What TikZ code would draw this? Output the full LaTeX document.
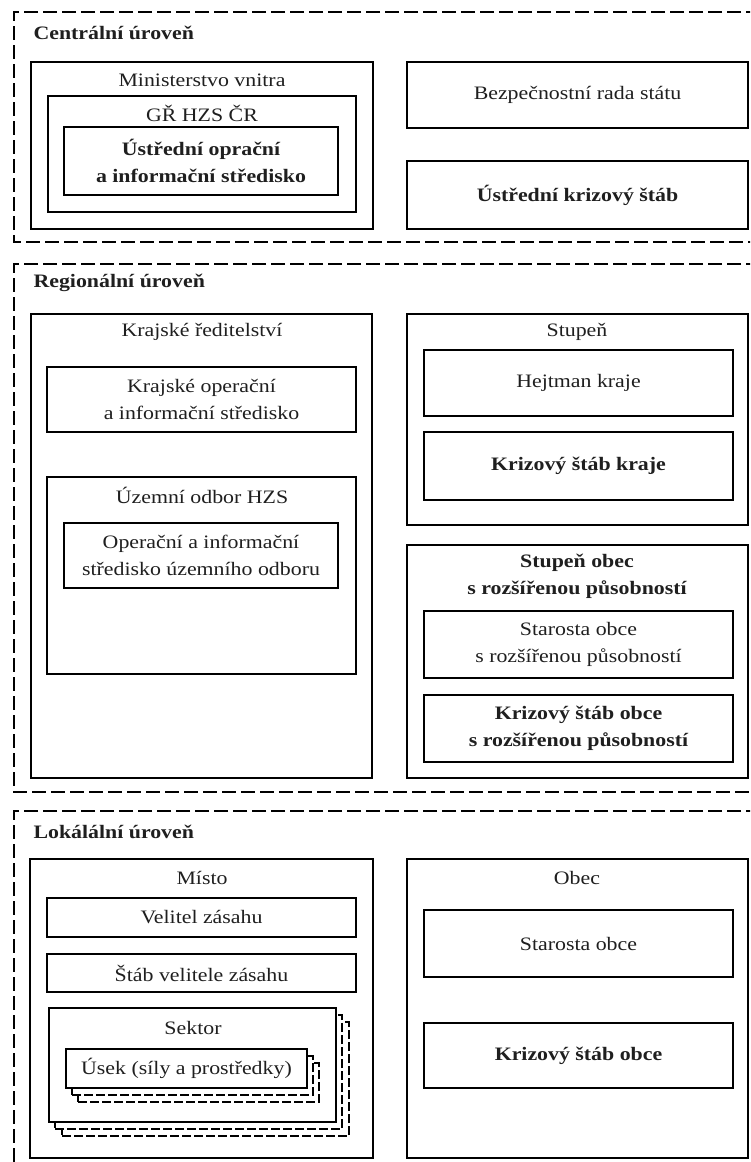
\documentclass[tikz,border=0pt]{standalone}
\usepackage{fontspec}
\setmainfont{Liberation Serif}[FakeStretch=1.15]
\usetikzlibrary{fit}
\begin{document}
\begin{tikzpicture}[x=1pt,y=-1pt,
  every node/.style={font=\fontsize{19}{27}\selectfont, text=black!88},
  box/.style={draw, line width=1.2pt, fill=white, inner sep=0pt},
  copybox/.style={draw, line width=1.2pt, fill=white, inner sep=0pt, dash pattern=on 9pt off 3pt},
  zone/.style={draw, line width=1.3pt, dash pattern=on 14pt off 5pt},
  lvl/.style={anchor=west, font=\fontsize{19}{27}\selectfont\bfseries},
  bt/.style={font=\fontsize{19}{27}\selectfont\bfseries},
  ttl/.style={anchor=center, align=center}
]
\useasboundingbox (0,0) rectangle (750,1162);
\fill[white] (0,0) rectangle (750,1162);
\clip (0,0) rectangle (750,1162);

% ---------------- Central level
\draw[zone] (760,12) -- (14,12) -- (14,242) -- (760,242);
\node[lvl] (lc) at (30,33) {Centrální úroveň};
\node[box, fit={(31,62) (373,229)}] (mv) {};
\node[ttl] (mvt) at (202,80) {Ministerstvo vnitra};
\node[box, fit={(48,96) (356,212)}] (gr) {};
\node[ttl] (grt) at (202,113) {GŘ HZS ČR};
\node[box, fit={(64,127) (338,195)}] (uois) {};
\node[ttl, bt] (uoist) at (uois.center) {Ústřední oprační\\a informační středisko};
\node[box, fit={(407,62) (748,128)}] (brs) {};
\node[ttl] (brst) at (brs.center) {Bezpečnostní rada státu};
\node[box, fit={(407,161) (748,229)}] (uks) {};
\node[ttl, bt] (ukst) at (uks.center) {Ústřední krizový štáb};

% ---------------- Regional level
\draw[zone] (760,264) -- (14,264) -- (14,792) -- (760,792);
\node[lvl] (lr) at (30,283) {Regionální úroveň};
\node[box, fit={(31,314) (372,778)}] (kr) {};
\node[ttl] (krt) at (202,332) {Krajské ředitelství};
\node[box, fit={(47,367) (356,432)}] (kois) {};
\node[ttl] (koist) at (kois.center) {Krajské operační\\a informační středisko};
\node[box, fit={(47,477) (356,674)}] (uo) {};
\node[ttl] (uot) at (202,495) {Územní odbor HZS};
\node[box, fit={(64,523) (338,588)}] (ois) {};
\node[ttl] (oist) at (ois.center) {Operační a informační\\středisko územního odboru};

\node[box, fit={(407,314) (748,525)}] (st) {};
\node[ttl] (stt) at (577,332) {Stupeň};
\node[box, fit={(424,350) (733,416)}] (hk) {};
\node[ttl] (hkt) at (hk.center) {Hejtman kraje};
\node[box, fit={(424,432) (733,500)}] (ksk) {};
\node[ttl, bt] (kskt) at (ksk.center) {Krizový štáb kraje};

\node[box, fit={(407,545) (748,778)}] (so) {};
\node[ttl, bt] (sot) at (577,576) {Stupeň obec\\s rozšířenou působností};
\node[box, fit={(424,611) (733,678)}] (sorp) {};
\node[ttl] (sorpt) at (sorp.center) {Starosta obce\\s rozšířenou působností};
\node[box, fit={(424,695) (733,762)}] (ksorp) {};
\node[ttl, bt] (ksorpt) at (ksorp.center) {Krizový štáb obce\\s rozšířenou působností};

% ---------------- Local level
\draw[zone] (760,811) -- (14,811) -- (14,1175);
\node[lvl] (ll) at (30,832) {Lokálální úroveň};
\node[box, fit={(30,859) (373,1158)}] (misto) {};
\node[ttl] (mistot) at (202,878) {Místo};
\node[box, fit={(47,898) (356,937)}] (vz) {};
\node[ttl] (vzt) at (vz.center) {Velitel zásahu};
\node[box, fit={(47,954) (356,992)}] (svz) {};
\node[ttl] (svzt) at (svz.center) {Štáb velitele zásahu};

\node[copybox, fit={(62,1022) (349,1136)}] (sek3) {};
\node[copybox, fit={(55,1015) (342,1129)}] (sek2) {};
\node[box, fit={(49,1008) (336,1122)}] (sek) {};
\node[ttl] (sekt) at (193,1028) {Sektor};
\node[copybox, fit={(78,1063) (319,1102)}] (us3) {};
\node[copybox, fit={(72,1056) (313,1095)}] (us2) {};
\node[box, fit={(66,1049) (307,1088)}] (us) {};
\node[ttl] (ust) at (us.center) {Úsek (síly a prostředky)};

\node[box, fit={(407,859) (748,1158)}] (obec) {};
\node[ttl] (obect) at (577,878) {Obec};
\node[box, fit={(424,910) (733,977)}] (sob) {};
\node[ttl] (sobt) at (sob.center) {Starosta obce};
\node[box, fit={(424,1023) (733,1088)}] (kso) {};
\node[ttl, bt] (ksot) at (kso.center) {Krizový štáb obce};
\end{tikzpicture}
\end{document}
